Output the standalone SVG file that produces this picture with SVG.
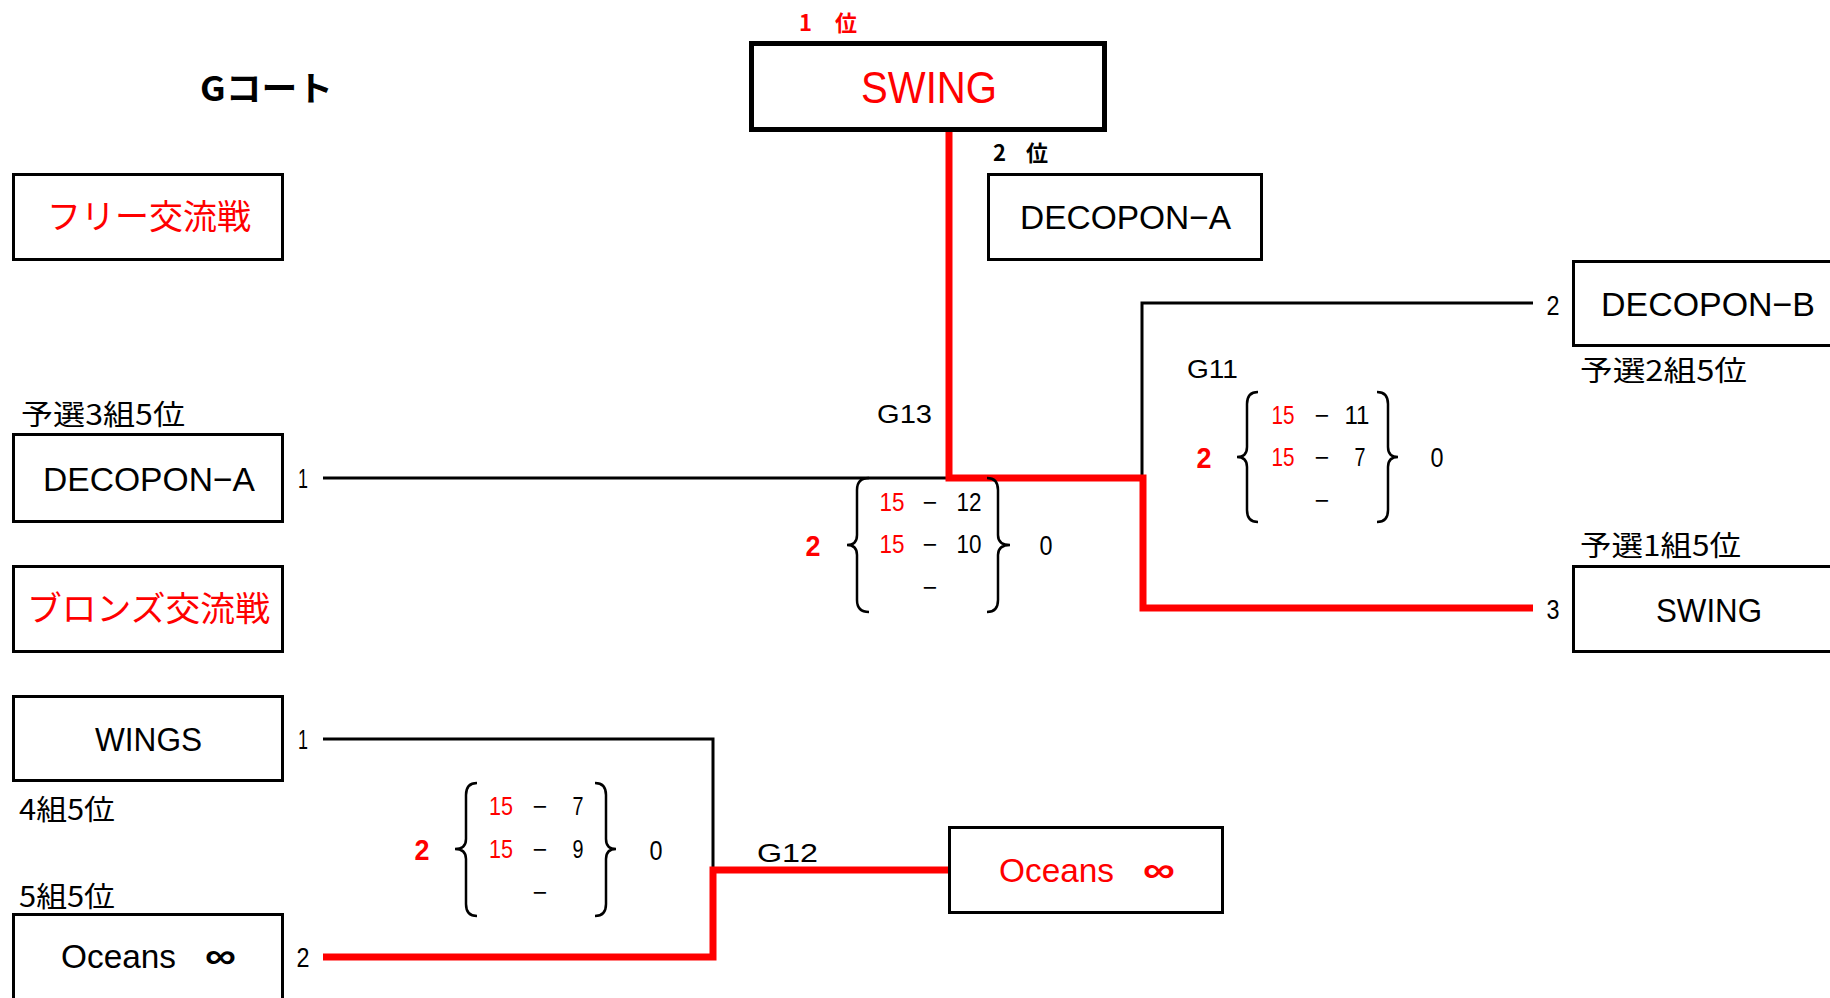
<svg xmlns="http://www.w3.org/2000/svg" width="1830" height="998" viewBox="0 0 1830 998">
<style>
  .bg{fill:#fff}
  .box{fill:#fff;stroke:#000;stroke-width:3}
  .boxw{fill:#fff;stroke:#000;stroke-width:5}
  .ln{fill:none;stroke:#000;stroke-width:3}
  .win{fill:none;stroke:#f00;stroke-width:7;stroke-linejoin:miter;stroke-linecap:butt}
  .br{fill:none;stroke:#000;stroke-width:2.5}
  text{font-family:'Liberation Sans','Noto Sans CJK JP',sans-serif}
  .jp{font-family:'Noto Sans CJK JP','Liberation Sans',sans-serif}
  .name{font-size:34px}
  .red{fill:#f00}
  .sm{font-size:25px}
  .num{font-size:28px;text-anchor:middle}
  .sc{font-size:25px;text-anchor:middle}
  .bold{font-weight:bold}
  .mid{text-anchor:middle}
  .inf{font-size:36px;font-weight:bold}
</style>
<rect class="bg" x="0" y="0" width="1830" height="998"/>

<g id="connectors">
  <polyline class="ln" points="323,478 949,478"/>
  <polyline class="ln" points="1533,303 1142,303 1142,478"/>
  <polyline class="ln" points="323,739 713,739 713,870"/>
  <polyline class="win" points="949,130 949,478 1143,478 1143,608 1533,608"/>
  <polyline class="win" points="323,957 713,957 713,870 949,870"/>
</g>

<g id="title">
  <text class="jp bold" x="200" y="101" font-size="34" textLength="133" lengthAdjust="spacingAndGlyphs">Gコート</text>
</g>

<g id="node-first">
  <text class="jp bold red" x="799" y="31" font-size="22" textLength="58" lengthAdjust="spacing">1 位</text>
  <rect class="boxw" x="751.5" y="43.5" width="353" height="86"/>
  <text class="red mid" x="929" y="103" font-size="45" textLength="136" lengthAdjust="spacingAndGlyphs">SWING</text>
</g>

<g id="node-second">
  <text class="jp bold" x="993" y="161" font-size="22" textLength="55" lengthAdjust="spacing">2 位</text>
  <rect class="box" x="988.5" y="174.5" width="273" height="85"/>
  <text class="name" x="1020" y="229" font-size="36" textLength="211" lengthAdjust="spacingAndGlyphs">DECOPON−A</text>
</g>

<g id="node-free">
  <rect class="box" x="13.5" y="174.5" width="269" height="85"/>
  <text class="jp red" x="47" y="229" font-size="34" textLength="204" lengthAdjust="spacingAndGlyphs">フリー交流戦</text>
</g>

<g id="node-decopon-b">
  <text class="num" x="1553" y="315" textLength="13" lengthAdjust="spacingAndGlyphs">2</text>
  <rect class="box" x="1573.5" y="261.5" width="300" height="84"/>
  <text class="name" x="1601" y="316" font-size="36" textLength="214" lengthAdjust="spacingAndGlyphs">DECOPON−B</text>
  <text class="jp" x="1580" y="381" font-size="28" textLength="167" lengthAdjust="spacingAndGlyphs">予選2組5位</text>
</g>

<g id="node-decopon-a-left">
  <text class="jp" x="21" y="425" font-size="28" textLength="164" lengthAdjust="spacingAndGlyphs">予選3組5位</text>
  <rect class="box" x="13.5" y="434.5" width="269" height="87"/>
  <text class="name" x="43" y="491" font-size="36" textLength="212" lengthAdjust="spacingAndGlyphs">DECOPON−A</text>
  <text class="num" x="303" y="488" textLength="10" lengthAdjust="spacingAndGlyphs">1</text>
</g>

<g id="node-swing-right">
  <text class="jp" x="1580" y="556" font-size="28" textLength="161" lengthAdjust="spacingAndGlyphs">予選1組5位</text>
  <text class="num" x="1553" y="619" textLength="13" lengthAdjust="spacingAndGlyphs">3</text>
  <rect class="box" x="1573.5" y="566.5" width="300" height="85"/>
  <text class="name" x="1656" y="622" font-size="36" textLength="106" lengthAdjust="spacingAndGlyphs">SWING</text>
</g>

<g id="node-bronze">
  <rect class="box" x="13.5" y="566.5" width="269" height="85"/>
  <text class="jp red" x="27" y="621" font-size="34" textLength="243" lengthAdjust="spacingAndGlyphs">ブロンズ交流戦</text>
</g>

<g id="node-wings">
  <rect class="box" x="13.5" y="696.5" width="269" height="84"/>
  <text class="name" x="95" y="751" font-size="36" textLength="107" lengthAdjust="spacingAndGlyphs">WINGS</text>
  <text class="num" x="303" y="749" textLength="10" lengthAdjust="spacingAndGlyphs">1</text>
  <text class="jp" x="19" y="820" font-size="28" textLength="96" lengthAdjust="spacingAndGlyphs">4組5位</text>
</g>

<g id="node-oceans-left">
  <text class="jp" x="19" y="907" font-size="28" textLength="96" lengthAdjust="spacingAndGlyphs">5組5位</text>
  <rect class="box" x="13.5" y="914.5" width="269" height="100"/>
  <text class="name" x="61" y="968" font-size="36" textLength="115" lengthAdjust="spacingAndGlyphs">Oceans</text>
  <text class="inf" x="205" y="968" textLength="31" lengthAdjust="spacingAndGlyphs">∞</text>
  <text class="num" x="303" y="967" textLength="13" lengthAdjust="spacingAndGlyphs">2</text>
</g>

<g id="node-oceans-right">
  <rect class="box" x="949.5" y="827.5" width="273" height="85"/>
  <text class="name red" x="999" y="882" font-size="36" textLength="115" lengthAdjust="spacingAndGlyphs">Oceans</text>
  <text class="inf red" x="1143" y="882" textLength="32" lengthAdjust="spacingAndGlyphs">∞</text>
</g>

<g id="match-g13">
  <text class="sm" x="877" y="423" textLength="55" lengthAdjust="spacingAndGlyphs">G13</text>
  <text class="red bold mid" x="813" y="556" font-size="30" textLength="15" lengthAdjust="spacingAndGlyphs">2</text>
  <path class="br" d="M869,478 Q857,478 857,490 L857,535 Q857,545 847,545 Q857,545 857,555 L857,600 Q857,612 869,612"/>
  <text class="sc red" x="892" y="511" textLength="25" lengthAdjust="spacingAndGlyphs">15</text>
  <text class="sc" x="930" y="511">−</text>
  <text class="sc" x="969" y="511" textLength="25" lengthAdjust="spacingAndGlyphs">12</text>
  <text class="sc red" x="892" y="553" textLength="25" lengthAdjust="spacingAndGlyphs">15</text>
  <text class="sc" x="930" y="553">−</text>
  <text class="sc" x="969" y="553" textLength="25" lengthAdjust="spacingAndGlyphs">10</text>
  <text class="sc" x="930" y="596">−</text>
  <path class="br" d="M987,478 Q998,478 998,490 L998,535 Q998,545 1010,545 Q998,545 998,555 L998,600 Q998,612 987,612"/>
  <text class="mid" x="1046" y="555" font-size="28" textLength="13" lengthAdjust="spacingAndGlyphs">0</text>
</g>

<g id="match-g11">
  <text class="sm" x="1187" y="378" textLength="51" lengthAdjust="spacingAndGlyphs">G11</text>
  <text class="red bold mid" x="1204" y="468" font-size="30" textLength="15" lengthAdjust="spacingAndGlyphs">2</text>
  <path class="br" d="M1258,392 Q1247,392 1247,404 L1247,447 Q1247,457 1237,457 Q1247,457 1247,467 L1247,510 Q1247,522 1258,522"/>
  <text class="sc red" x="1283" y="424" textLength="23" lengthAdjust="spacingAndGlyphs">15</text>
  <text class="sc" x="1322" y="424">−</text>
  <text class="sc" x="1357" y="424" textLength="25" lengthAdjust="spacingAndGlyphs">11</text>
  <text class="sc red" x="1283" y="466" textLength="23" lengthAdjust="spacingAndGlyphs">15</text>
  <text class="sc" x="1322" y="466">−</text>
  <text class="sc" x="1360" y="466" textLength="11" lengthAdjust="spacingAndGlyphs">7</text>
  <text class="sc" x="1322" y="509">−</text>
  <path class="br" d="M1377,392 Q1388,392 1388,404 L1388,447 Q1388,457 1398,457 Q1388,457 1388,467 L1388,510 Q1388,522 1377,522"/>
  <text class="mid" x="1437" y="467" font-size="28" textLength="13" lengthAdjust="spacingAndGlyphs">0</text>
</g>

<g id="match-g12">
  <text class="sm" x="757" y="862" textLength="61" lengthAdjust="spacingAndGlyphs">G12</text>
  <text class="red bold mid" x="422" y="860" font-size="30" textLength="15" lengthAdjust="spacingAndGlyphs">2</text>
  <path class="br" d="M477,783 Q466,783 466,795 L466,839 Q466,849 455,849 Q466,849 466,859 L466,904 Q466,916 477,916"/>
  <text class="sc red" x="501" y="815" textLength="24" lengthAdjust="spacingAndGlyphs">15</text>
  <text class="sc" x="540" y="815">−</text>
  <text class="sc" x="578" y="815" textLength="11" lengthAdjust="spacingAndGlyphs">7</text>
  <text class="sc red" x="501" y="858" textLength="24" lengthAdjust="spacingAndGlyphs">15</text>
  <text class="sc" x="540" y="858">−</text>
  <text class="sc" x="578" y="858" textLength="11" lengthAdjust="spacingAndGlyphs">9</text>
  <text class="sc" x="540" y="901">−</text>
  <path class="br" d="M595,783 Q606,783 606,795 L606,839 Q606,849 616,849 Q606,849 606,859 L606,904 Q606,916 595,916"/>
  <text class="mid" x="656" y="860" font-size="28" textLength="13" lengthAdjust="spacingAndGlyphs">0</text>
</g>
</svg>
